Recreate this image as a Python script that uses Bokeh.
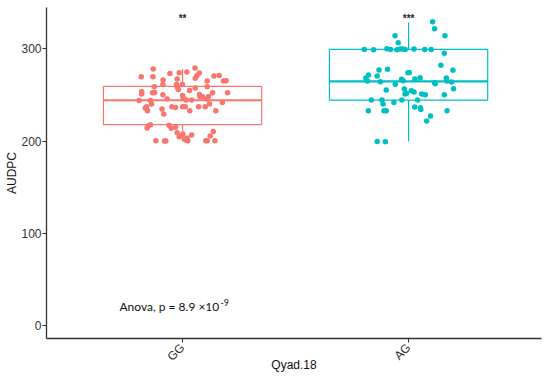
import numpy as np
from bokeh.plotting import figure
from bokeh.models import Range1d, FixedTicker, Label
from bokeh.embed import file_html
from bokeh.resources import INLINE

categories = ["GG", "AG"]
colors = ["#F8766D", "#00BFC4"]
stars = ["**", "***"]

# box statistics: lower whisker, Q1, median, Q3, upper whisker
box_lower = [200.0, 199.7]
box_q1 = [217.8, 244.5]
box_median = [244.3, 264.7]
box_q3 = [259.3, 299.4]
box_upper = [278.0, 328.6]

gg_jit = [-0.130, 0.055, -0.183, -0.131, -0.056, -0.015, 0.019, 0.074, 0.063, 0.056,
          0.139, 0.162, 0.181, 0.193, 0.109, -0.086, -0.024, -0.087, -0.027, -0.001,
          -0.125, -0.181, -0.181, -0.133, -0.124, -0.087, -0.024, -0.019, 0.031, 0.056,
          0.109, 0.133, 0.199, 0.075, 0.077, 0.088, 0.000, 0.003, 0.016, 0.040,
          -0.192, -0.142, -0.137, -0.159, -0.155, -0.165, -0.091, -0.083, -0.047, -0.031,
          0.000, 0.012, 0.032, 0.071, 0.100, 0.119, 0.147, 0.176, 0.106, 0.115,
          -0.068, -0.152, -0.142, -0.157, -0.060, -0.050, -0.031, -0.024, -0.015, 0.001,
          0.007, 0.014, 0.023, 0.020, 0.040, 0.136, 0.122, 0.103, 0.109, 0.143,
          -0.118, -0.080, -0.074]
gg_val = [278.1, 279.2, 269.8, 269.8, 273.4, 274.1, 274.9, 273.8, 270.9, 268.3,
          270.5, 271.2, 265.1, 265.4, 265.1, 266.2, 267.3, 261.5, 261.5, 261.5,
          258.9, 253.5, 251.0, 252.4, 252.8, 250.3, 258.9, 256.0, 254.9, 257.5,
          258.9, 252.4, 252.4, 250.6, 248.4, 248.1, 249.5, 246.7, 244.5, 244.5,
          244.1, 244.1, 240.2, 237.3, 233.0, 235.9, 234.8, 229.4, 237.3, 236.5,
          237.3, 237.3, 233.0, 237.3, 237.3, 240.2, 233.0, 241.9, 245.6, 248.4,
          245.6, 216.4, 217.8, 214.2, 217.1, 213.8, 214.9, 209.1, 204.8, 207.7,
          202.3, 201.2, 200.4, 203.4, 206.6, 210.5, 205.5, 200.4, 200.4, 200.4,
          200.4, 200.1, 200.0]

ag_jit = [0.106, 0.115, 0.161, -0.060, -0.046, -0.196, -0.155, -0.096, -0.080, -0.052,
          -0.037, -0.025, -0.015, 0.024, 0.071, 0.100, 0.158, 0.143, 0.196, -0.131,
          -0.093, -0.139, -0.177, -0.189, -0.182, -0.125, -0.059, -0.031, -0.024, -0.003,
          0.003, 0.028, 0.051, 0.115, 0.118, 0.167, 0.170, 0.190, 0.199, 0.158,
          -0.099, -0.016, -0.019, 0.012, 0.024, -0.009, 0.058, 0.074, -0.165, -0.118,
          -0.113, -0.065, -0.030, 0.040, -0.178, -0.109, -0.099, 0.027, 0.052, 0.054,
          0.170, 0.097, 0.080, -0.139, -0.103]
ag_val = [329.4, 321.8, 314.2, 314.2, 306.6, 299.4, 299.0, 300.1, 299.4, 299.0,
          299.8, 299.8, 299.4, 299.8, 299.4, 299.4, 295.2, 282.2, 276.8, 277.1,
          277.9, 270.6, 271.7, 268.5, 265.2, 264.5, 261.6, 267.0, 265.5, 274.0,
          274.4, 267.3, 268.8, 263.3, 262.2, 268.5, 265.2, 264.1, 256.8, 250.3,
          255.4, 251.0, 256.4, 254.6, 253.2, 252.0, 251.0, 250.3, 244.5, 244.5,
          240.2, 241.9, 244.5, 244.5, 232.9, 232.9, 232.9, 236.9, 236.2, 234.4,
          232.9, 227.2, 221.7, 199.7, 199.4]

y_ticks = [0, 100, 200, 300]
x_title = "Qyad.18"
y_title = "AUDPC"
anova_main = "Anova, p = 8.9 \u00d710"
anova_exp = "-9"

FONT = "Liberation Sans"

p = figure(width=542, height=374, output_backend="svg", toolbar_location=None,
           x_range=Range1d(0.398, 2.588), y_range=Range1d(-14.1, 344.9),
           min_border_left=46, min_border_right=1, min_border_top=7, min_border_bottom=36)
p.outline_line_color = None
p.grid.visible = False
p.background_fill_color = "white"

pos = [1, 2]
half = 0.35
# boxes
p.quad(left=[c - half for c in pos], right=[c + half for c in pos], bottom=box_q1, top=box_q3,
       fill_color=None, line_color=colors, line_width=1.2)
p.segment(x0=[c - half for c in pos], x1=[c + half for c in pos], y0=box_median, y1=box_median,
          line_color=colors, line_width=2.2)
p.segment(x0=pos, x1=pos, y0=box_q3, y1=box_upper, line_color=colors, line_width=1.2)
p.segment(x0=pos, x1=pos, y0=box_lower, y1=box_q1, line_color=colors, line_width=1.2)

# jittered points
for c, jit, val, col in [(1, gg_jit, gg_val, colors[0]), (2, ag_jit, ag_val, colors[1])]:
    p.scatter(x=[c + j for j in jit], y=val, size=5.5, fill_color=col, line_color=None)

# significance stars
p.text(x=pos, y=[333, 333], text=stars, text_align="center", text_baseline="middle",
       text_font_size="10px", text_color="#222222", text_font_style="bold")

p.add_layout(Label(x=0.721, y=20.5, text=anova_main, text_align="left", text_baseline="middle",
                   text_font="Lato", text_font_size="12px", text_color="#111111"))
p.add_layout(Label(x=0.721, y=20.5, x_offset=101, y_offset=4, text=anova_exp, text_align="left",
                   text_baseline="middle", text_font="Lato", text_font_size="9px",
                   text_color="#111111"))

# axes
for ax in (p.xaxis[0], p.yaxis[0]):
    ax.axis_line_color = "#333333"
    ax.axis_line_width = 1.3
    ax.major_tick_line_color = "#333333"
    ax.major_tick_out = 4
    ax.major_tick_in = 0
    ax.minor_tick_line_color = None
    ax.major_label_text_font = FONT
    ax.major_label_text_font_size = "12px"
    ax.major_label_text_color = "#333333"
    ax.axis_label_text_font = FONT
    ax.axis_label_text_font_size = "12px"
    ax.axis_label_text_font_style = "normal"
    ax.axis_label_text_color = "#111111"

p.xaxis.ticker = FixedTicker(ticks=pos)
p.xaxis.major_label_overrides = {1: "GG", 2: "AG"}
p.xaxis.major_label_orientation = np.pi / 4
p.xaxis.major_label_standoff = 3
p.xaxis.axis_label = x_title
p.xaxis.axis_label_standoff = -14

p.yaxis.ticker = FixedTicker(ticks=y_ticks)
p.yaxis.major_label_standoff = 1
p.yaxis.axis_label = y_title
p.yaxis.axis_label_standoff = -1

open("out.html", "w").write(file_html(p, INLINE))
